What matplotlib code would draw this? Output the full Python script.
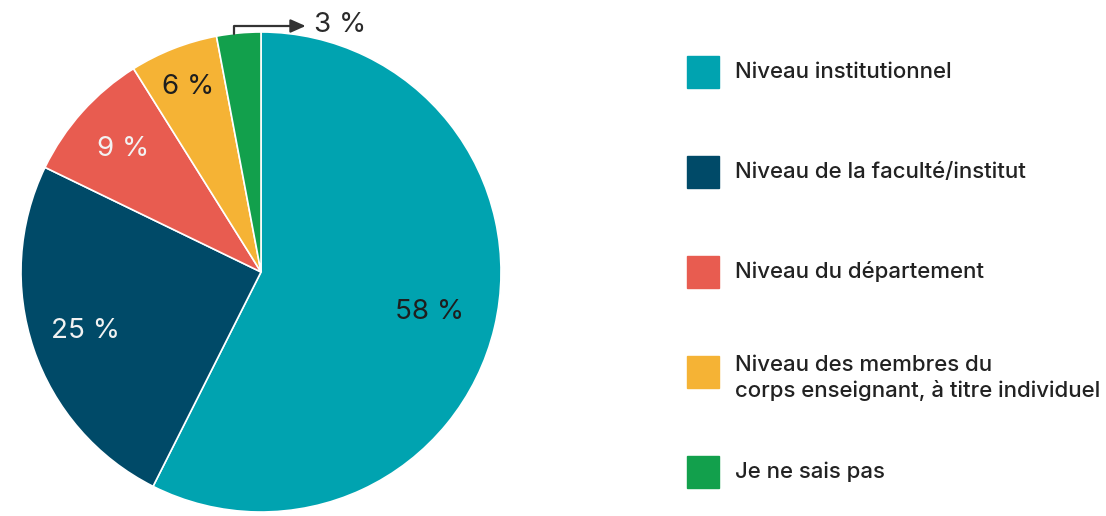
import matplotlib.pyplot as plt
import numpy as np

categories = ["Niveau institutionnel",
              "Niveau de la faculté/institut",
              "Niveau du département",
              "Niveau des membres du\ncorps enseignant, à titre individuel",
              "Je ne sais pas"]
values = [58, 25, 9, 6, 3]
value_labels = ["58 %", "25 %", "9 %", "6 %", "3 %"]

colors = ["#00A3B0", "#004A68", "#E85C50", "#F5B335", "#12A04C"]
text_colors = ["#1e1e1e", "#f2f2f2", "#f2f2f2", "#1e1e1e", "#2a2a2a"]
label_dist = [0.72, 0.77, 0.77, 0.83]

plt.rcParams['font.family'] = ['Inter', 'DejaVu Sans']

W, H = 1106, 516
fig = plt.figure(figsize=(W / 100, H / 100), dpi=100)
ax = fig.add_axes([0, 0, 1, 1])

# pie placed in pixel space (y measured upward)
cx, cy, r = 261, H - 272, 240
wedges, _ = ax.pie(values, colors=colors, startangle=90, counterclock=False,
                   center=(cx, cy), radius=r, frame=True,
                   wedgeprops=dict(edgecolor='white', linewidth=1.2))
ax.set_xlim(0, W)
ax.set_ylim(0, H)
ax.set_aspect('equal')
ax.axis('off')

for i, w in enumerate(wedges[:4]):
    mid = np.deg2rad((w.theta1 + w.theta2) / 2)
    x = cx + label_dist[i] * r * np.cos(mid)
    y = cy + label_dist[i] * r * np.sin(mid)
    ax.text(x, y, value_labels[i], ha='center', va='center',
            fontsize=20, color=text_colors[i])

# small slice gets an outside label with an elbow arrow
w = wedges[4]
mid = np.deg2rad((w.theta1 + w.theta2) / 2)
sx = cx + r * np.cos(mid) - 5
sy = cy + r * np.sin(mid) - 1
ax.annotate('', xy=(sx + 72, H - 26), xytext=(sx, sy),
            arrowprops=dict(arrowstyle='-|>,head_length=0.9,head_width=0.4',
                            color='#333333', lw=1.6, shrinkA=0, shrinkB=0,
                            connectionstyle='angle,angleA=90,angleB=0,rad=0'))
ax.text(sx + 80, H - 25, value_labels[4], ha='left', va='center',
        fontsize=20, color=text_colors[4])

# legend
box = 32
for i, (lab, c) in enumerate(zip(categories, colors)):
    yc = H - (72 + 100 * i)
    ax.add_patch(plt.Rectangle((687, yc - box / 2), box, box, color=c))
    if '\n' in lab:
        ax.text(735, yc + box / 2 + 1, lab, ha='left', va='top', fontsize=16,
                color='#222222', linespacing=1.3, fontweight='medium')
    else:
        ax.text(735, yc, lab, ha='left', va='center', fontsize=16,
                color='#222222', fontweight='medium')

fig.savefig('out.png', dpi=100)
